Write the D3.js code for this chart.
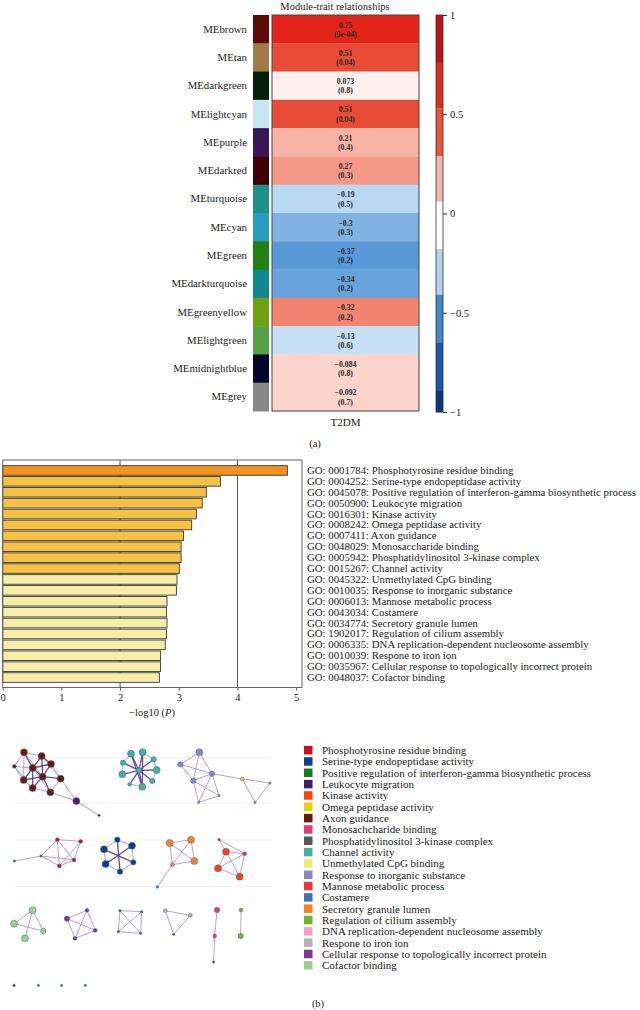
<!DOCTYPE html>
<html><head><meta charset="utf-8">
<script src="https://cdn.jsdelivr.net/npm/d3@7"></script>
<style>
body{margin:0;background:#fff;}
svg{display:block;font-family:"Liberation Serif","DejaVu Serif",serif;}
</style></head>
<body><svg id="c" width="640" height="1010"></svg>
<script>
// ---------- (a) module-trait heatmap ----------
const modules = ["MEbrown","MEtan","MEdarkgreen","MElightcyan","MEpurple","MEdarkred","MEturquoise","MEcyan","MEgreen","MEdarkturquoise","MEgreenyellow","MElightgreen","MEmidnightblue","MEgrey"];
const moduleColors = ["#5e0a06","#a57848","#02200a","#c4e6f2","#3a1658","#400002","#1e9088","#2a9cc0","#208014","#108890","#70a010","#58a044","#04062a","#888888"];
const corrValues = ["0.75","0.51","0.073","0.51","0.21","0.27","\u22120.19","\u22120.3","\u22120.37","\u22120.34","\u22120.32","\u22120.13","\u22120.084","\u22120.092"];
const pValues = ["(9e-04)","(0.04)","(0.8)","(0.04)","(0.4)","(0.3)","(0.5)","(0.3)","(0.2)","(0.2)","(0.2)","(0.6)","(0.8)","(0.7)"];
// value each cell's shade encodes
const shadeValues = [0.75,0.52,0.05,0.52,0.2,0.26,-0.19,-0.3,-0.38,-0.34,0.33,-0.15,0.13,0.13];
const traits = ["T2DM"];
const colorbarTicks = [1,0.5,0,-0.5,-1];
const colorbarBreaks = [1,0.76,0.53,0.29,0.06,-0.18,-0.41,-0.65,-0.89,-1];

// ---------- GO enrichment bars ----------
const goTerms = ["GO: 0001784: Phosphotyrosine residue binding","GO: 0004252: Serine-type endopeptidase activity","GO: 0045078: Positive regulation of interferon-gamma biosynthetic process","GO: 0050900: Leukocyte migration","GO: 0016301: Kinase activity","GO: 0008242: Omega peptidase activity","GO: 0007411: Axon guidance","GO: 0048029: Monosaccharide binding","GO: 0005942: Phosphatidylinositol 3-kinase complex","GO: 0015267: Channel activity","GO: 0045322: Unmethylated CpG binding","GO: 0010035: Response to inorganic substance","GO: 0006013: Mannose metabolic process","GO: 0043034: Costamere","GO: 0034774: Secretory granule lumen","GO: 1902017: Regulation of cilium assembly","GO: 0006335: DNA replication-dependent nucleosome assembly","GO: 0010039: Respone to iron ion","GO: 0035967: Cellular response to topologically incorrect protein","GO: 0048037: Cofactor binding"];
const negLogP = [4.85,3.71,3.47,3.40,3.30,3.22,3.08,3.04,3.04,3.01,2.97,2.96,2.80,2.79,2.80,2.79,2.77,2.69,2.69,2.67];
const xTicks = [0,1,2,3,4,5];
const gridValues = [2,4];

// ---------- (b) network ----------
const legendTerms = ["Phosphotyrosine residue binding","Serine-type endopeptidase activity","Positive regulation of interferon-gamma biosynthetic process","Leukocyte migration","Kinase activity","Omega peptidase activity","Axon guidance","Monosachcharide binding","Phosphatidylinositol 3-kinase complex","Channel activity","Unmethylated CpG binding","Response to inorganic substance","Mannose metabolic process","Costamere","Secretory granule lumen","Regulation of cilium assembly","DNA replication-dependent nucleosome assembly","Respone to iron ion","Cellular response to topologically incorrect protein","Cofactor binding"];
// layout units of the network drawing: [id, x, y, cluster term index, size class]
const nodes = [
 ["a1",72,187,6,1],["a2",125,198,6,1],["a3",43,229,6,3],["a4",153,222,6,1],["a5",98,234,6,1],["a6",128,260,6,1],["a7",71,270,6,1],["a8",182,266,6,1],["a9",98,294,6,1],["a10",151,307,6,1],["a11",229,333,3,1],["a12",297,376,1,4],
 ["c0",417,241,9,2],["c1",393,191,9,1],["c2",428,187,9,1],["c3",461,208,9,2],["c4",470,240,9,1],["c5",457,273,9,2],["c6",427,290,9,1],["c7",389,283,9,3],["c8",367,253,9,1],["c9",369,218,9,2],
 ["r1",598,187,11,1],["r2",541,223,11,2],["r3",636,251,11,2],["r4",580,272,11,2],["r5",657,317,11,4],["r6",596,337,11,4],["r7",727,267,5,3],["r8",810,279,15,4],["r9",765,337,15,4],
 ["p1",43,513,13,4],["p2",123,498,8,4],["p3",172,449,0,3],["p4",242,454,0,3],["p5",222,510,0,3],["p6",178,528,0,3],
 ["s1",352,449,1,2],["s2",396,467,1,1],["s3",400,517,1,2],["s4",360,545,1,2],["s5",317,522,1,1],["s6",312,478,1,1],
 ["g1",509,459,14,1],["g2",573,449,14,1],["g3",583,513,14,1],["g4",517,524,14,3],["g5",472,591,13,4],
 ["k1",657,449,0,4],["k2",678,485,4,1],["k3",734,491,12,3],["k4",654,535,4,1],["k5",719,560,4,1],
 ["f1",98,661,19,1],["f2",42,701,19,1],["f3",130,723,19,2],["f4",75,745,19,1],
 ["t1",261,661,18,3],["t2",201,686,18,2],["t3",286,721,18,3],["t4",225,745,18,3],
 ["i1",360,662,2,4],["i2",425,665,2,4],["i3",355,725,2,4],["i4",422,730,2,4],
 ["m1",496,662,17,3],["m2",571,676,17,3],["m3",521,733,13,4],
 ["n1",651,660,7,2],["n2",644,738,7,3],["n3",641,816,18,4],
 ["l1",723,660,15,3],["l2",722,738,15,2],
 ["z1",42,886,6,4],["z2",115,886,13,4],["z3",185,886,13,4],["z4",256,886,13,4]
];
// [source, target, strength]
const edges = [
 ["a1","a2",1],["a1","a3",1],["a1","a5",2],["a1","a6",1],["a1","a7",1],["a2","a4",2],["a2","a5",2],["a2","a6",2],["a2","a8",1],["a3","a5",1],["a3","a7",1],["a4","a5",2],["a4","a6",2],["a4","a8",1],["a5","a6",2],["a5","a7",2],["a5","a9",2],["a5","a10",1],["a6","a7",2],["a6","a8",2],["a6","a9",2],["a6","a10",2],["a7","a9",1],["a8","a10",1],["a9","a10",1],["a3","a9",1],["a10","a11",1],["a8","a11",1],["a11","a12",1],
 ["c0","c1",2],["c0","c2",2],["c0","c3",2],["c0","c4",2],["c0","c5",2],["c0","c6",2],["c0","c7",2],["c0","c8",2],["c0","c9",2],["c1","c9",1],["c2","c3",1],["c3","c4",1],["c4","c5",1],["c6","c7",1],["c8","c9",1],["c1","c6",2],["c2","c6",2],
 ["r1","r2",1],["r1","r3",1],["r1","r4",1],["r2","r3",1],["r2","r4",1],["r3","r4",1],["r4","r6",1],["r4","r5",1],["r3","r5",1],["r3","r6",1],["r5","r6",1],["r3","r7",1],["r7","r8",1],["r7","r9",1],["r8","r9",1],
 ["p1","p2",1],["p2","p3",1],["p2","p5",1],["p2","p6",1],["p3","p4",1],["p3","p5",1],["p3","p6",1],["p4","p5",1],["p4","p6",1],["p5","p6",1],
 ["s1","s2",1],["s2","s3",1],["s3","s4",1],["s4","s5",1],["s5","s6",1],["s6","s1",1],["s1","s4",2],["s2","s5",2],["s3","s6",2],
 ["g1","g2",1],["g1","g3",1],["g1","g4",1],["g2","g3",1],["g2","g4",1],["g3","g4",1],["g4","g5",1],
 ["k1","k2",1],["k1","k3",1],["k2","k3",1],["k2","k4",1],["k2","k5",1],["k3","k4",1],["k3","k5",1],["k4","k5",1],
 ["f1","f2",1],["f1","f3",1],["f1","f4",1],["f2","f3",1],
 ["t1","t2",1],["t1","t3",1],["t1","t4",1],["t2","t3",1],["t2","t4",1],["t3","t4",1],
 ["i1","i2",1],["i1","i3",1],["i1","i4",1],["i2","i3",1],["i2","i4",1],["i3","i4",1],
 ["m1","m2",1],["m1","m3",1],["m2","m3",1],
 ["n1","n2",1],["n2","n3",1],
 ["l1","l2",1]
];
const networkGuides = [205,340,450,590];

// ================= drawing =================
const svg = d3.select("#c");
const serif = '"Liberation Serif","DejaVu Serif",serif';

// --- heatmap ---
const hx0 = 272, hx1 = 419, hy0 = 15, hy1 = 411;
const yRow = d3.scaleBand().domain(modules).range([hy0, hy1]);
const xTrait = d3.scaleBand().domain(traits).range([hx0, hx1]);
const heat = d3.scaleLinear()
  .domain([-1,-0.5,-0.35,-0.2,0,0.1,0.25,0.5,0.75,1])
  .range(["#08306b","#3a7cc8","#62a0dc","#b4d6f2","#ffffff","#fde2dc","#f69c8a","#e8503a","#e3241a","#b0101a"]);

svg.append("text").attr("x",335).attr("y",10).attr("text-anchor","middle")
  .attr("font-size",10.5).attr("fill","#222").text("Module-trait relationships");

svg.append("g").selectAll("rect").data(modules).join("rect")
  .attr("x",253).attr("width",16).attr("y",d=>yRow(d)).attr("height",yRow.bandwidth()+0.5)
  .attr("fill",(d,i)=>moduleColors[i]);

svg.append("g").selectAll("text").data(modules).join("text")
  .attr("x",247).attr("y",d=>yRow(d)+yRow.bandwidth()/2+3.6).attr("text-anchor","end")
  .attr("font-size",10.8).attr("fill","#222").text(d=>d);

const cells = svg.append("g");
cells.selectAll("rect").data(modules).join("rect")
  .attr("x",xTrait("T2DM")).attr("width",xTrait.bandwidth()).attr("y",d=>yRow(d)).attr("height",yRow.bandwidth()+0.3)
  .attr("fill",(d,i)=>heat(shadeValues[i]));
cells.selectAll("text.v").data(modules).join("text").attr("class","v")
  .attr("x",xTrait("T2DM")+xTrait.bandwidth()/2).attr("y",d=>yRow(d)+12.5).attr("text-anchor","middle")
  .attr("font-size",7.8).attr("font-weight","bold").attr("fill","#2a2a2a").text((d,i)=>corrValues[i]);
cells.selectAll("text.p").data(modules).join("text").attr("class","p")
  .attr("x",xTrait("T2DM")+xTrait.bandwidth()/2).attr("y",d=>yRow(d)+21.8).attr("text-anchor","middle")
  .attr("font-size",7.8).attr("font-weight","bold").attr("fill","#2a2a2a").text((d,i)=>pValues[i]);
svg.append("rect").attr("x",hx0).attr("y",hy0).attr("width",hx1-hx0).attr("height",hy1-hy0)
  .attr("fill","none").attr("stroke","#444").attr("stroke-width",1);
svg.append("text").attr("x",(hx0+hx1)/2).attr("y",426).attr("text-anchor","middle")
  .attr("font-size",11).attr("fill","#222").text("T2DM");
svg.append("text").attr("x",315).attr("y",447).attr("text-anchor","middle")
  .attr("font-size",10.5).attr("fill","#222").text("(a)");

// colorbar
const cb = d3.scaleLinear().domain([-1,1]).range([412,15]);
const bandColor = d3.scaleThreshold()
  .domain([-0.89,-0.65,-0.41,-0.18,0.06,0.29,0.53,0.76])
  .range(["#0a3580","#1a58aa","#4286cc","#b0d4f0","#ffffff","#f8b4a6","#e9523c","#df2a1e","#bf1018"]);
const bands = d3.pairs(colorbarBreaks);
svg.append("g").selectAll("rect").data(bands).join("rect")
  .attr("x",436).attr("width",7).attr("y",d=>cb(d[0])).attr("height",d=>cb(d[1])-cb(d[0])+0.3)
  .attr("fill",d=>bandColor((d[0]+d[1])/2));
svg.append("rect").attr("x",436).attr("y",15).attr("width",7).attr("height",397)
  .attr("fill","none").attr("stroke","#333").attr("stroke-width",0.8);
const cbAxis = svg.append("g").attr("transform","translate(443,0)")
  .call(d3.axisRight(cb).tickValues(colorbarTicks).tickSize(4).tickFormat(d=>d===0?"0":d3.format("")(d).replace("-","\u2212")));
cbAxis.select(".domain").remove();
cbAxis.selectAll("line").attr("stroke","#333");
cbAxis.selectAll("text").attr("font-family",serif).attr("font-size",10.5).attr("fill","#222");

// --- bar chart ---
const bx = d3.scaleLinear().domain([0,5.1]).range([2.7,302]);
const by = d3.scaleBand().domain(goTerms).range([465,683]).paddingInner(0.12).paddingOuter(0.06);
const barFill = i => i===0 ? "#f7921e" : (i<10 ? "#f6c244" : "#f8eeaa");
svg.append("g").selectAll("line").data(gridValues).join("line")
  .attr("x1",d=>bx(d)).attr("x2",d=>bx(d)).attr("y1",460).attr("y2",687.5)
  .attr("stroke","#555").attr("stroke-width",1);
svg.append("g").selectAll("rect").data(goTerms).join("rect")
  .attr("x",bx(0)).attr("y",d=>by(d)).attr("height",by.bandwidth())
  .attr("width",(d,i)=>bx(negLogP[i])-bx(0))
  .attr("fill",(d,i)=>barFill(i)).attr("stroke","#3a3a3a").attr("stroke-width",0.9);
svg.append("rect").attr("x",2.7).attr("y",460).attr("width",302-2.7).attr("height",227.5)
  .attr("fill","none").attr("stroke","#666").attr("stroke-width",1);
const xAx = svg.append("g").attr("transform","translate(0,687.5)")
  .call(d3.axisBottom(bx).tickValues(xTicks).tickSize(3).tickPadding(3).tickFormat(d3.format("d")));
xAx.select(".domain").remove();
xAx.selectAll("line").attr("stroke","#555");
xAx.selectAll("text").attr("font-family",serif).attr("font-size",10.5).attr("fill","#222");
const xt = svg.append("text").attr("x",152).attr("y",715.5).attr("text-anchor","middle")
  .attr("font-size",10.5).attr("fill","#222");
xt.append("tspan").text("\u2212log10 (");
xt.append("tspan").attr("font-style","italic").text("P");
xt.append("tspan").text(")");
svg.append("g").selectAll("text").data(goTerms).join("text")
  .attr("x",307).attr("y",d=>by(d)+by.bandwidth()/2+3.5)
  .attr("font-size",10.8).attr("fill","#222").text(d=>d);

// --- network ---
const nx = d3.scaleLinear().domain([0,900]).range([0,300]);
const ny = d3.scaleLinear().domain([0,960]).range([690,1010]);
const termColor = d3.scaleOrdinal().domain(d3.range(20))
  .range(["#c8101a","#0c3f8c","#1a7a22","#4a1a6a","#f04412","#e8d400","#6a1a0c","#e03a7a","#565656","#45b09c","#f2e87a","#8a88c4","#e43a32","#3a74b4","#f88028","#72b02e","#f4a0c4","#b4b4b4","#7a3a88","#98d090"]);
const rSize = d3.scaleOrdinal().domain([1,2,3,4]).range([3.5,2.7,1.9,1.2]);
svg.append("g").selectAll("line").data(networkGuides).join("line")
  .attr("x1",nx(40)).attr("x2",nx(815)).attr("y1",d=>ny(d)).attr("y2",d=>ny(d))
  .attr("stroke","#f0f0f0").attr("stroke-width",0.8);
const byId = new Map(nodes.map(n=>[n[0],n]));
svg.append("g").selectAll("line").data(edges).join("line")
  .attr("x1",e=>nx(byId.get(e[0])[1])).attr("y1",e=>ny(byId.get(e[0])[2]))
  .attr("x2",e=>nx(byId.get(e[1])[1])).attr("y2",e=>ny(byId.get(e[1])[2]))
  .attr("stroke",e=>e[2]===2?"#4e2f8e":"#9077c8").attr("stroke-width",e=>e[2]===2?1.3:0.8)
  .attr("stroke-opacity",0.85);
svg.append("g").selectAll("circle").data(nodes).join("circle")
  .attr("cx",n=>nx(n[1])).attr("cy",n=>ny(n[2])).attr("r",n=>rSize(n[4]))
  .attr("fill",n=>termColor(n[3])).attr("stroke","#4a6a90").attr("stroke-width",0.5);

// legend
const ly = d3.scaleBand().domain(legendTerms).range([744.5,971]);
svg.append("g").selectAll("rect").data(legendTerms).join("rect")
  .attr("x",304).attr("y",d=>ly(d)+1.4).attr("width",8.5).attr("height",8.5)
  .attr("fill",(d,i)=>termColor(i));
svg.append("g").selectAll("text").data(legendTerms).join("text")
  .attr("x",322).attr("y",d=>ly(d)+9.5).attr("font-size",11).attr("fill","#222").text(d=>d);
svg.append("text").attr("x",318).attr("y",1007).attr("text-anchor","middle")
  .attr("font-size",10.5).attr("fill","#222").text("(b)");
</script></body></html>
